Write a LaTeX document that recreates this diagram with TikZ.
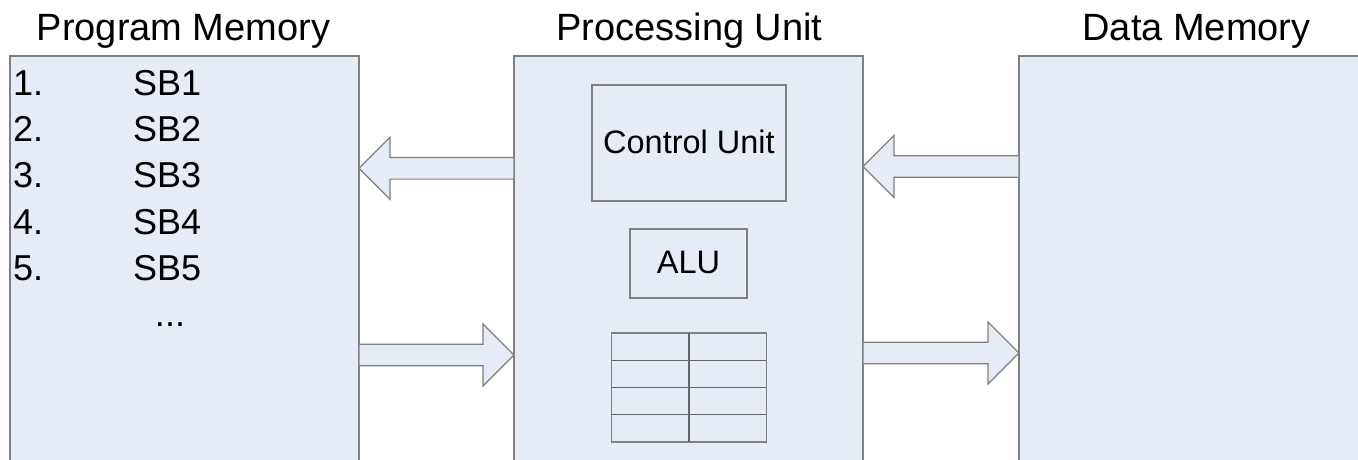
\documentclass[tikz,border=0pt]{standalone}
\usepackage{fontspec}
\setmainfont{Liberation Sans}
\usetikzlibrary{calc}
\definecolor{boxfill}{RGB}{230,236,246}
\definecolor{boxline}{RGB}{128,128,128}
\definecolor{gridline}{RGB}{100,100,100}
\tikzset{
  panel/.style={draw=boxline, fill=boxfill, line width=1.2pt, inner sep=0pt, outer sep=0pt, rectangle},
  innerbox/.style={draw=boxline, fill=boxfill, line width=1.2pt, inner sep=0pt, outer sep=0pt, rectangle},
  title/.style={font=\fontsize{38}{42}\selectfont, anchor=base, inner sep=0pt},
  listtxt/.style={font=\fontsize{36}{40}\selectfont, anchor=base west, inner sep=0pt},
  dottxt/.style={font=\fontsize{36}{40}\selectfont, anchor=base, inner sep=0pt},
  intxt/.style={font=\fontsize{32.5}{36}\selectfont, anchor=base, inner sep=0pt},
  barrow/.style={draw=boxline, fill=boxfill, line width=1.2pt, line join=miter},
  tableline/.style={draw=gridline, line width=1.2pt}
}
% #1 tail, #2 tip, #3 signed head length
\newcommand\hbarrow[3]{%
  \draw[barrow] let \p1=(#1), \p2=(#2) in
   (\x1,\y1+10.8pt) -- (\x2-#3pt,\y1+10.8pt) -- (\x2-#3pt,\y1+31pt) -- (\x2,\y2)
   -- (\x2-#3pt,\y1-31pt) -- (\x2-#3pt,\y1-10.8pt) -- (\x1,\y1-10.8pt) -- cycle;}
\begin{document}
\begin{tikzpicture}[x=1pt,y=-1pt]
\useasboundingbox (0,0) rectangle (1358,459);
\clip (0,0) rectangle (1358,459);
\fill[white] (0,0) rectangle (1358,459);

% main panels
\node[panel, minimum width=349pt, minimum height=430pt, anchor=north west] (pm) at (10,56) {};
\node[panel, minimum width=349pt, minimum height=430pt, anchor=north west] (pu) at (514,56) {};
\node[panel, minimum width=360pt, minimum height=430pt, anchor=north west] (dm) at (1019,56) {};

% titles
\node[title] (tpm) at (183.5,40) {Program Memory};
\node[title] (tpu) at (689.5,40) {Processing Unit};
\node[title] (tdm) at (1196.5,40) {Data Memory};

% program list
\node[listtxt] (n1) at (13,95) {1.};
\node[listtxt] (s1) at (133,95) {SB1};
\node[listtxt] (n2) at (13,141) {2.};
\node[listtxt] (s2) at (133,141) {SB2};
\node[listtxt] (n3) at (13,187) {3.};
\node[listtxt] (s3) at (133,187) {SB3};
\node[listtxt] (n4) at (13,234) {4.};
\node[listtxt] (s4) at (133,234) {SB4};
\node[listtxt] (n5) at (13,280) {5.};
\node[listtxt] (s5) at (133,280) {SB5};
\node[dottxt] (dots) at (170,326) {...};

% processing unit internals
\node[innerbox, minimum width=194pt, minimum height=116pt, anchor=north west] (cu) at (592,85) {};
\node[intxt] (cut) at (689,153) {Control Unit};
\node[innerbox, minimum width=117pt, minimum height=69pt, anchor=north west] (alu) at (630,229) {};
\node[intxt] (alut) at (688.5,273) {ALU};
\node[innerbox, minimum width=155pt, minimum height=109pt, anchor=north west] (reg) at (611.5,333) {};
\draw[tableline] (reg.north) -- (reg.south);
\draw[tableline] ($(reg.north west)!0.25!(reg.south west)$) -- ($(reg.north east)!0.25!(reg.south east)$);
\draw[tableline] (reg.west) -- (reg.east);
\draw[tableline] ($(reg.north west)!0.75!(reg.south west)$) -- ($(reg.north east)!0.75!(reg.south east)$);

% block arrows
\coordinate (a1tip) at (pm.east |- 0,168.3);
\coordinate (a1tail) at (pu.west |- 0,168.3);
\hbarrow{a1tail}{a1tip}{-31}
\coordinate (a2tail) at (pm.east |- 0,355);
\coordinate (a2tip) at (pu.west |- 0,355);
\hbarrow{a2tail}{a2tip}{31}
\coordinate (a3tip) at (pu.east |- 0,166.5);
\coordinate (a3tail) at (dm.west |- 0,166.5);
\hbarrow{a3tail}{a3tip}{-31}
\coordinate (a4tail) at (pu.east |- 0,353);
\coordinate (a4tip) at (dm.west |- 0,353);
\hbarrow{a4tail}{a4tip}{31}
\end{tikzpicture}
\end{document}
